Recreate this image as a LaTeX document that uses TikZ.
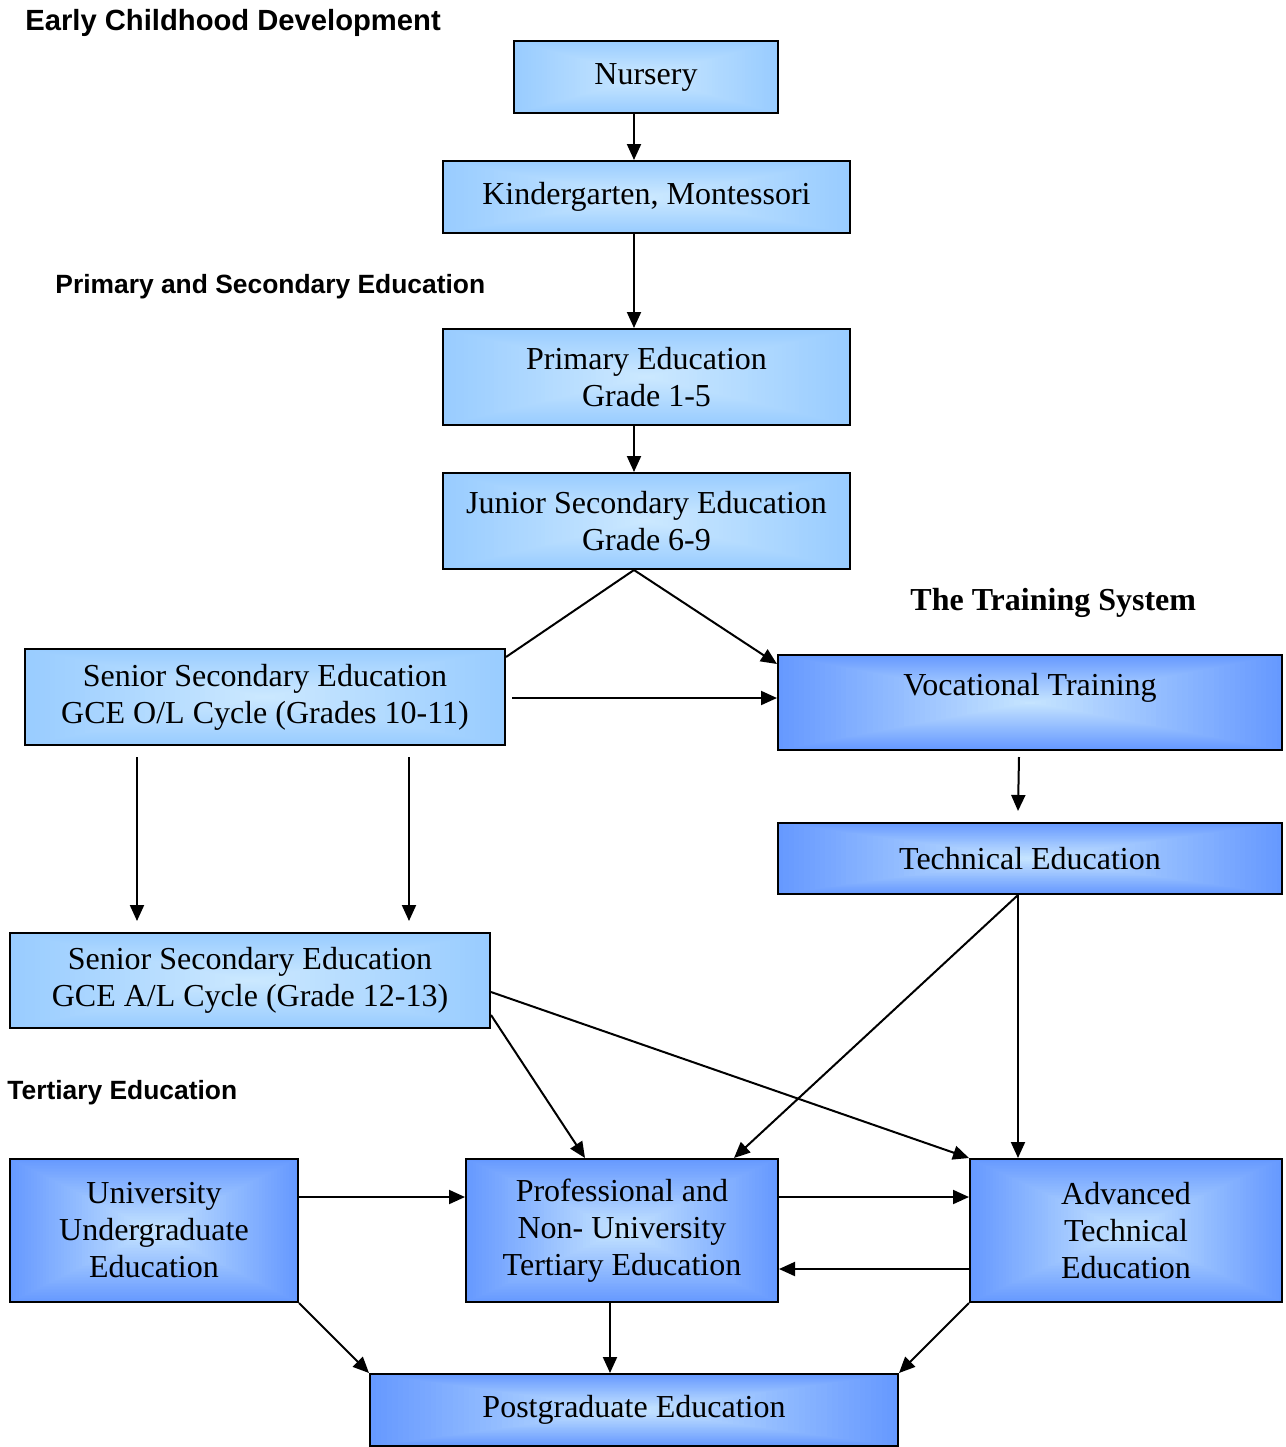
\documentclass[tikz,border=0pt]{standalone}
\usepackage{fontspec}
\setmainfont{Liberation Serif}
\newfontfamily\headsans{Liberation Sans}
\usetikzlibrary{arrows.meta,calc}
\definecolor{lightedge}{HTML}{99CCFF}
\definecolor{lightmid}{HTML}{CDE9FF}
\definecolor{darkedge}{HTML}{6699FF}
\definecolor{darkmid}{HTML}{C8E6FF}
\tikzset{
 gradfill/.style 2 args={path picture={
   \foreach \i in {0,...,47}{
     \pgfmathsetmacro\f{1-\i/48}
     \pgfmathtruncatemacro\p{100*\i/48}
     \fill[#2!\p!#1] ($(path picture bounding box.center)!\f!(path picture bounding box.south west)$) rectangle ($(path picture bounding box.center)!\f!(path picture bounding box.north east)$);
   }}},
 sz/.style 2 args={minimum width=#1*0.5pt, minimum height=#2*0.5pt},
 box/.style={draw=black, line width=1pt, inner sep=0pt, align=center, font=\fontsize{16}{18.5}\selectfont},
 lbox/.style={box, fill=lightedge, gradfill={lightedge}{lightmid}},
 dbox/.style={box, fill=darkedge, gradfill={darkedge}{darkmid}},
 arr/.style={line width=1pt, -{Triangle[length=8pt,width=7pt]}},
 ln/.style={line width=1pt},
 heading/.style={font=\headsans\bfseries\fontsize{13.2}{15}\selectfont, inner sep=0pt, anchor=base west},
}
\begin{document}
\begin{tikzpicture}[x=0.5pt,y=-0.5pt]
\useasboundingbox (0,0) rectangle (1286,1447);
% headings
\node[heading, font=\headsans\bfseries\fontsize{14.6}{17}\selectfont] (h1) at (25,30) {Early Childhood Development};
\node[heading] (h2) at (55,293) {Primary and Secondary Education};
\node[heading] (h3) at (7,1099) {Tertiary Education};
\node[inner sep=0pt, anchor=base west, font=\bfseries\fontsize{16}{18.5}\selectfont] (h4) at (910,610) {The Training System};
% boxes
\node[lbox, sz={264}{72}] (nur) at (646,77) {Nursery};
\node[lbox, sz={407}{72}] (kg) at (646.5,197) {Kindergarten, Montessori};
\node[lbox, sz={407}{96}] (pri) at (646.5,377) {Primary Education\\Grade 1-5};
\node[lbox, sz={407}{96}] (jun) at (646.5,521) {Junior Secondary Education\\Grade 6-9};
\node[lbox, sz={480}{96}] (sol) at (265,697) {Senior Secondary Education\\GCE O/L Cycle (Grades 10-11)};
\node[lbox, sz={480}{95}] (sal) at (250,980.5) {Senior Secondary Education\\GCE A/L Cycle (Grade 12-13)};
\node[dbox, sz={504}{95}, text height=11pt, text depth=18.5pt] (voc) at (1030,702.5) {Vocational Training};
\node[dbox, sz={504}{71}] (tec) at (1030,858.5) {Technical Education};
\node[dbox, sz={288}{143}] (uni) at (154,1230.5) {University\\Undergraduate\\Education};
\node[dbox, sz={312}{143}] (pro) at (622,1230.5) {Professional and\\Non- University\\Tertiary Education};
\node[dbox, sz={312}{143}] (adv) at (1126,1230.5) {Advanced\\Technical\\Education};
\node[dbox, sz={528}{72}] (pg) at (634,1410) {Postgraduate Education};
% helper coordinates
\coordinate (cx) at (634,0);
\coordinate (c137) at (137,0);
\coordinate (c409) at (409,0);
\coordinate (c1018) at (1018,0);
\coordinate (c610) at (610,0);
\coordinate (r1197) at (0,1197);
\coordinate (r1269) at (0,1269);
% connectors
\draw[arr] (nur.south -| cx) -- (kg.north -| cx);
\draw[arr] (kg.south -| cx) -- (pri.north -| cx);
\draw[arr] (pri.south -| cx) -- (jun.north -| cx);
\draw[ln] (jun.south -| cx) -- ($(sol.north east)+(0,9)$);
\draw[arr] (jun.south -| cx) -- ($(voc.north west)+(0,10)$);
\draw[arr] ($(sol.east)+(6,1)$) -- ($(voc.west |- sol.east)+(0,1)$);
\draw[arr] ($(sol.south -| c137)+(0,11)$) -- ($(sal.north -| c137)+(0,-11)$);
\draw[arr] ($(sol.south -| c409)+(0,11)$) -- ($(sal.north -| c409)+(0,-11)$);
\draw[arr] ($(voc.south -| c1018)+(1,6)$) -- ($(tec.north -| c1018)+(0,-11)$);
\draw[arr] (tec.south -| c1018) -- ($(pro.north east)+(-45,0)$);
\draw[arr] (tec.south -| c1018) -- (adv.north -| c1018);
\draw[arr] ($(sal.east)+(0,11.5)$) -- (adv.north west);
\draw[arr] ($(sal.east)+(0,34.5)$) -- ($(pro.north)+(-37,0)$);
\draw[arr] (uni.east |- r1197) -- (pro.west |- r1197);
\draw[arr] (pro.east |- r1197) -- (adv.west |- r1197);
\draw[arr] (adv.west |- r1269) -- (pro.east |- r1269);
\draw[arr] (uni.south east) -- (pg.north west);
\draw[arr] (pro.south -| c610) -- (pg.north -| c610);
\draw[arr] (adv.south west) -- (pg.north east);
\end{tikzpicture}
\end{document}
